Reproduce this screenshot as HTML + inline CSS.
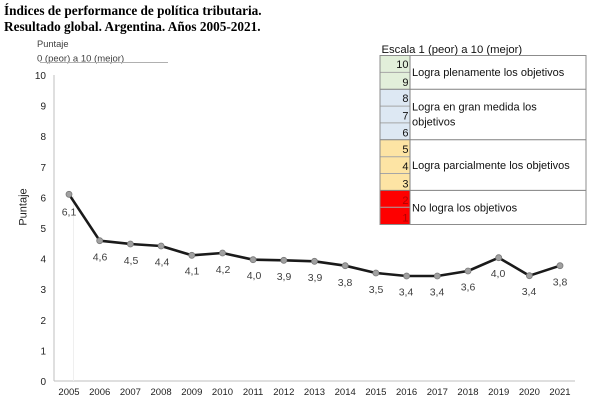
<!DOCTYPE html>
<html>
<head>
<meta charset="utf-8">
<style>
html,body{margin:0;padding:0;background:#fff;}
body{width:600px;height:409px;overflow:hidden;position:relative;}
svg{position:absolute;left:0;top:0;}
</style>
</head>
<body>
<svg width="600" height="409" viewBox="0 0 600 409" xmlns="http://www.w3.org/2000/svg">
  <!-- Title -->
  <g font-family="'Liberation Serif', serif" font-weight="bold" font-size="13.25" fill="#000">
    <text x="4" y="15">Índices de performance de política tributaria.</text>
    <text x="4" y="31">Resultado global. Argentina. Años 2005-2021.</text>
  </g>

  <!-- Top-left unit label -->
  <g font-family="'Liberation Sans', sans-serif" fill="#404040">
    <text x="37" y="47" font-size="9.3">Puntaje</text>
    <text x="37" y="61.5" font-size="9.5">0 (peor) a 10 (mejor)</text>
  </g>
  <line x1="40" y1="62.5" x2="168" y2="62.5" stroke="#b0b0b0" stroke-width="1"/>

  <!-- Axes -->
  <line x1="54" y1="75" x2="54" y2="381" stroke="#bfbfbf" stroke-width="1"/>
  <line x1="54" y1="381" x2="575" y2="381" stroke="#bfbfbf" stroke-width="1"/>
  <line x1="73.5" y1="196" x2="73.5" y2="381" stroke="#efefef" stroke-width="1"/>

  <!-- Y tick labels -->
  <g font-family="'Liberation Sans', sans-serif" font-size="10" fill="#222" text-anchor="end">
    <text x="46" y="79">10</text>
    <text x="46" y="109.6">9</text>
    <text x="46" y="140.2">8</text>
    <text x="46" y="170.8">7</text>
    <text x="46" y="201.4">6</text>
    <text x="46" y="232">5</text>
    <text x="46" y="262.6">4</text>
    <text x="46" y="293.2">3</text>
    <text x="46" y="323.8">2</text>
    <text x="46" y="354.4">1</text>
    <text x="46" y="385">0</text>
  </g>

  <!-- Y axis title -->
  <text x="0" y="0" transform="translate(26.5,207) rotate(-90)" font-family="'Liberation Sans', sans-serif" font-size="11" fill="#222" text-anchor="middle">Puntaje</text>

  <!-- X tick labels -->
  <g font-family="'Liberation Sans', sans-serif" font-size="9.5" fill="#222" text-anchor="middle">
    <text x="69" y="395">2005</text>
    <text x="99.7" y="395">2006</text>
    <text x="130.4" y="395">2007</text>
    <text x="161.1" y="395">2008</text>
    <text x="191.8" y="395">2009</text>
    <text x="222.5" y="395">2010</text>
    <text x="253.1" y="395">2011</text>
    <text x="283.8" y="395">2012</text>
    <text x="314.5" y="395">2013</text>
    <text x="345.2" y="395">2014</text>
    <text x="375.9" y="395">2015</text>
    <text x="406.6" y="395">2016</text>
    <text x="437.3" y="395">2017</text>
    <text x="468" y="395">2018</text>
    <text x="498.7" y="395">2019</text>
    <text x="529.4" y="395">2020</text>
    <text x="560" y="395">2021</text>
  </g>

  <!-- Series line -->
  <polyline fill="none" stroke="#1a1a1a" stroke-width="2.6" stroke-linejoin="round"
    points="69,194.3 99.7,240.7 130.4,244 161.1,246 191.8,255.3 222.5,253 253.1,259.7 283.8,260.3 314.5,261.3 345.2,265.7 375.9,273 406.6,276 437.3,276 468,271 498.7,257.7 529.4,275.7 560,265.7"/>

  <!-- Markers -->
  <g fill="#a0a0a0" stroke="#7a7a7a" stroke-width="0.8">
    <circle cx="69" cy="194.3" r="3"/>
    <circle cx="99.7" cy="240.7" r="3"/>
    <circle cx="130.4" cy="244" r="3"/>
    <circle cx="161.1" cy="246" r="3"/>
    <circle cx="191.8" cy="255.3" r="3"/>
    <circle cx="222.5" cy="253" r="3"/>
    <circle cx="253.1" cy="259.7" r="3"/>
    <circle cx="283.8" cy="260.3" r="3"/>
    <circle cx="314.5" cy="261.3" r="3"/>
    <circle cx="345.2" cy="265.7" r="3"/>
    <circle cx="375.9" cy="273" r="3"/>
    <circle cx="406.6" cy="276" r="3"/>
    <circle cx="437.3" cy="276" r="3"/>
    <circle cx="468" cy="271" r="3"/>
    <circle cx="498.7" cy="257.7" r="3"/>
    <circle cx="529.4" cy="275.7" r="3"/>
    <circle cx="560" cy="265.7" r="3"/>
  </g>

  <!-- Data labels -->
  <g font-family="'Liberation Sans', sans-serif" font-size="10.5" fill="#404040" text-anchor="middle">
    <text x="69" y="215.5">6,1</text>
    <text x="100" y="260.5">4,6</text>
    <text x="131" y="263.8">4,5</text>
    <text x="162" y="265.5">4,4</text>
    <text x="192" y="274.5">4,1</text>
    <text x="223" y="273">4,2</text>
    <text x="254" y="279">4,0</text>
    <text x="284" y="280">3,9</text>
    <text x="315" y="281">3,9</text>
    <text x="345" y="285.8">3,8</text>
    <text x="376" y="293">3,5</text>
    <text x="406" y="295.5">3,4</text>
    <text x="437" y="295.5">3,4</text>
    <text x="468" y="290.5">3,6</text>
    <text x="498" y="277">4,0</text>
    <text x="529" y="294.8">3,4</text>
    <text x="560" y="285.5">3,8</text>
  </g>

  <!-- Legend -->
  <text x="381.5" y="53" font-family="'Liberation Sans', sans-serif" font-size="11.3" fill="#111">Escala 1 (peor) a 10 (mejor)</text>
  <g>
    <rect x="380" y="55.5" width="206" height="169" fill="#fff"/>
    <!-- number cells -->
    <rect x="380" y="55.5" width="30" height="33.7" fill="#e2efda"/>
    <rect x="380" y="89.2" width="30" height="50.6" fill="#dde8f3"/>
    <rect x="380" y="139.8" width="30" height="50.6" fill="#fde4a4"/>
    <rect x="380" y="190.4" width="30" height="34.1" fill="#fe0000"/>
    <!-- row lines in number column -->
    <g stroke="#a6a6a6" stroke-width="1">
      <line x1="380" y1="72.4" x2="410" y2="72.4"/>
      <line x1="380" y1="106.1" x2="410" y2="106.1"/>
      <line x1="380" y1="122.9" x2="410" y2="122.9"/>
      <line x1="380" y1="156.7" x2="410" y2="156.7"/>
      <line x1="380" y1="173.5" x2="410" y2="173.5"/>
      <line x1="380" y1="207.3" x2="410" y2="207.3"/>
    </g>
    <!-- group lines -->
    <g stroke="#808080" stroke-width="1">
      <line x1="380" y1="89.2" x2="586" y2="89.2"/>
      <line x1="380" y1="139.8" x2="586" y2="139.8"/>
      <line x1="380" y1="190.4" x2="586" y2="190.4"/>
      <line x1="410" y1="55.5" x2="410" y2="224.5"/>
    </g>
    <rect x="380" y="55.5" width="206" height="169" fill="none" stroke="#8c8c8c" stroke-width="1"/>
    <!-- numbers -->
    <g font-family="'Liberation Sans', sans-serif" font-size="11" fill="#111" text-anchor="end">
      <text x="408.5" y="68">10</text>
      <text x="408.5" y="86">9</text>
      <text x="408.5" y="102">8</text>
      <text x="408.5" y="119.5">7</text>
      <text x="408.5" y="136.5">6</text>
      <text x="408.5" y="153">5</text>
      <text x="408.5" y="170">4</text>
      <text x="408.5" y="187.5">3</text>
      <text x="408.5" y="204" fill="#b00000">2</text>
      <text x="408.5" y="221.5" fill="#b00000">1</text>
    </g>
    <!-- labels -->
    <g font-family="'Liberation Sans', sans-serif" font-size="11" fill="#111">
      <text x="412" y="76">Logra plenamente los objetivos</text>
      <text x="412" y="110.5">Logra en gran medida los</text>
      <text x="412" y="125.5">objetivos</text>
      <text x="412" y="169">Logra parcialmente los objetivos</text>
      <text x="412" y="211.5">No logra los objetivos</text>
    </g>
  </g>
</svg>
</body>
</html>
